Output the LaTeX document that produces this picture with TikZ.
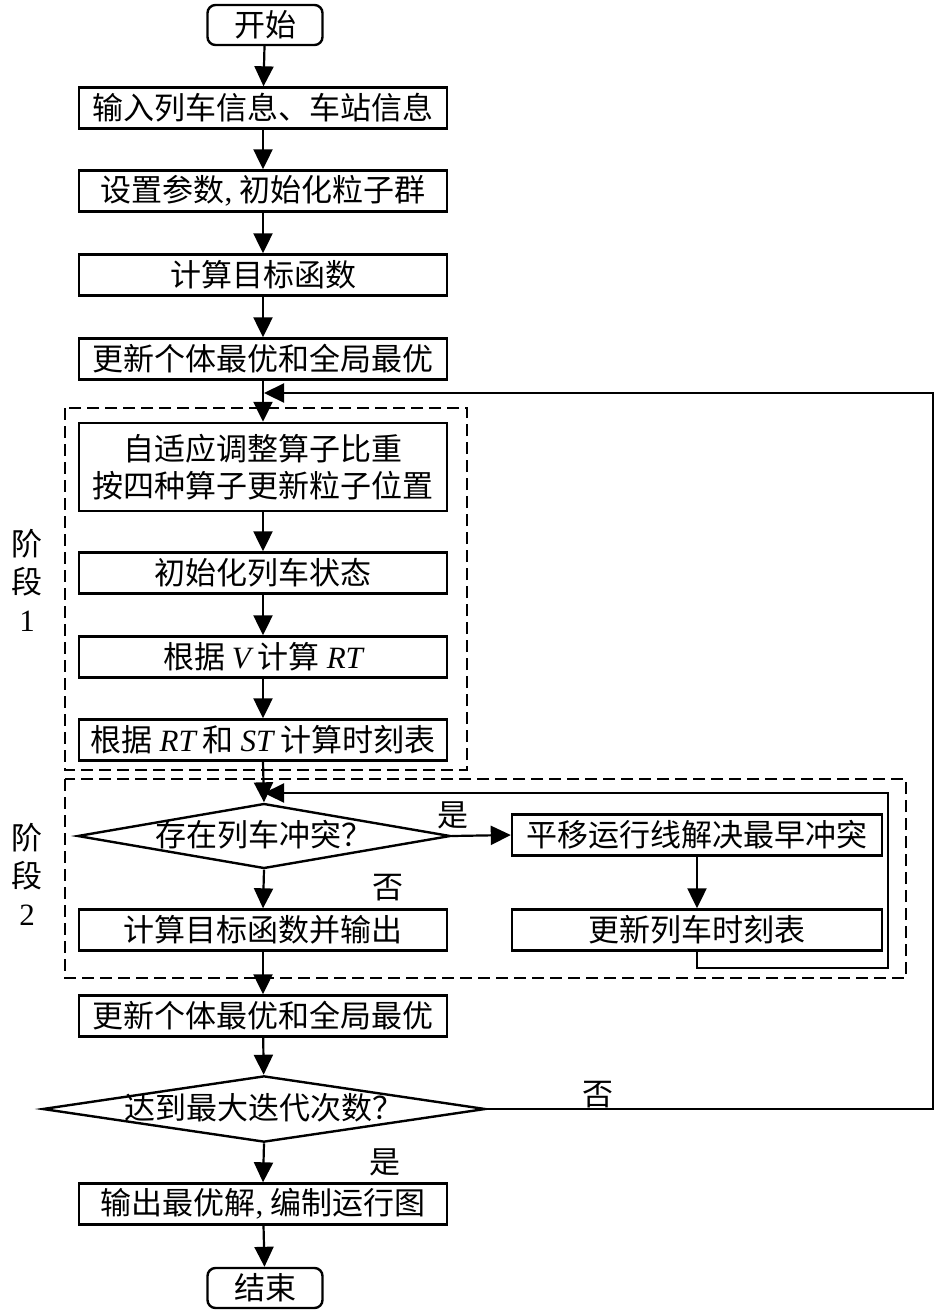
\documentclass[tikz,border=0pt]{standalone}
\usepackage{fontspec}
\setmainfont{Noto Sans CJK SC}
\newfontfamily\tnr{Liberation Serif}
\usetikzlibrary{shapes.geometric,arrows.meta}
\newcommand{\lat}[1]{{\tnr\itshape #1}}

\begin{document}
\begin{tikzpicture}[x=0.5pt,y=-0.5pt,line width=1pt,
  font=\fontsize{15.5}{18.5}\selectfont,
  box/.style={draw,line width=1.2pt,minimum width=184pt,minimum height=20.5pt,inner sep=0pt},
  term/.style={draw,line width=1.2pt,rounded corners=4pt,minimum width=57.5pt,minimum height=20pt,inner sep=0pt},
  decide/.style={draw,line width=1.2pt,diamond,inner sep=0pt,text height=11pt,text depth=1pt},
  stage/.style={dash pattern=on 6pt off 3pt,line width=1pt},
  arr/.style={-{Triangle[width=9.5pt,length=10pt]},line width=1.1pt}]
\useasboundingbox (0,0) rectangle (945,1313);

\node[term] (start) at (265,25) {开始};
\node[box] (b1) at (263,108) {输入列车信息、车站信息};
\node[box] (b2) at (263,191) {设置参数{\tnr,} 初始化粒子群};
\node[box] (b3) at (263,275) {计算目标函数};
\node[box] (b4) at (263,359) {更新个体最优和全局最优};

\draw[stage] (65,408) rectangle (467,770);
\node[box,minimum height=44pt,align=center] (b5) at (263,467) {自适应调整算子比重\\按四种算子更新粒子位置};
\node[box] (b6) at (263,573) {初始化列车状态};
\node[box] (b7) at (263,657) {根据 \lat{V} 计算 \lat{RT}};
\node[box] (b8) at (263,740) {根据 \lat{RT} 和 \lat{ST} 计算时刻表};
\node[align=center,font=\fontsize{15.5}{19}\selectfont] (s1) at (27,580) {阶\\段\\{\tnr 1}};

\draw[stage] (65,779) rectangle (906,978);
\node[decide,aspect=5.74,minimum width=186.5pt,minimum height=32.5pt] (d1) at (264,836) {存在列车冲突？};
\node[box,minimum width=185pt] (b9) at (697,835) {平移运行线解决最早冲突};
\node[box,minimum width=185pt] (b10) at (697,930) {更新列车时刻表};
\node[box] (b11) at (263,930) {计算目标函数并输出};
\node[align=center,font=\fontsize{15.5}{19}\selectfont] (s2) at (27,874) {阶\\段\\{\tnr 2}};
\node (yes1) at (453,815) {是};
\node (no1) at (388,888) {否};

\node[box] (b12) at (263,1016) {更新个体最优和全局最优};
\node[decide,aspect=6.6,minimum width=221.5pt,minimum height=33pt] (d2) at (264,1109) {达到最大迭代次数？};
\node (no2) at (598,1095) {否};
\node (yes2) at (385,1162) {是};
\node[box] (b13) at (263,1204) {输出最优解{\tnr,} 编制运行图};
\node[term] (end) at (265,1288) {结束};

\draw[arr] (start) -- (b1);
\draw[arr] (b1) -- (b2);
\draw[arr] (b2) -- (b3);
\draw[arr] (b3) -- (b4);
\draw[arr] (b4.south) -- (b5.north);
\draw[arr] (b5) -- (b6);
\draw[arr] (b6) -- (b7);
\draw[arr] (b7) -- (b8);
\draw[arr] (b8.south) -- (d1.north);
\draw[arr] (d1.east) -- (b9.west);
\draw[arr] (d1.south) -- (b11.north);
\draw[arr] (b9) -- (b10);
\draw[arr] (b11.south) -- (b12.north);
\draw[arr] (b12) -- (d2);
\draw[arr] (d2.south) -- (b13.north);
\draw[arr] (b13) -- (end);

\coordinate (c1) at (888,968);
\coordinate (j2) at (264,793);
\draw[arr] (b10.south) |- (c1) |- (j2);
\coordinate (r1) at (933,1109);
\coordinate (j1) at (264,393);
\draw[arr] (d2.east) -- (r1) |- (j1);
\end{tikzpicture}
\end{document}
